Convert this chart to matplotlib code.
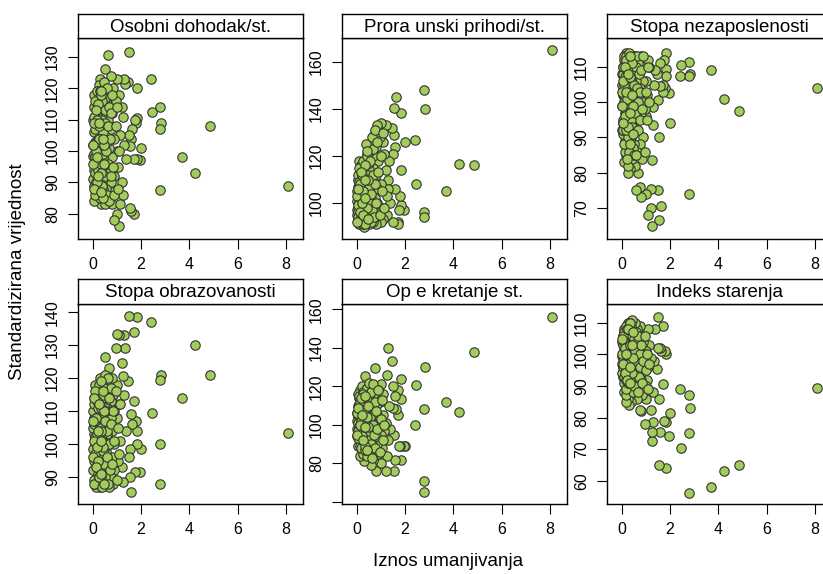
import matplotlib
matplotlib.use("Agg")
import matplotlib.pyplot as plt

plt.rcParams['font.family'] = ['Liberation Sans', 'DejaVu Sans']

W, H = 823, 574

naslovi = ['Osobni dohodak/st.', 'Prora unski prihodi/st.', 'Stopa nezaposlenosti',
           'Stopa obrazovanosti', 'Op e kretanje st.', 'Indeks starenja']

# iznos umanjivanja (zajednicki x za sve panele)
iznos = [8.1, 4.85, 4.25, 3.7, 2.85, 2.8, 2.8, 2.8, 2.45, 2.4,
         2.0, 1.95, 1.85, 1.85, 1.85, 1.8, 1.75, 1.7, 1.7, 1.65, 1.6, 1.6, 1.55, 1.55, 1.5, 1.5,
         1.45, 1.4, 1.35, 1.3, 1.3, 1.25, 1.25, 1.2, 1.2, 1.15, 1.1, 1.1, 1.05, 1.0, 1.0, 1.0,
         0.95, 0.9, 0.9, 0.9, 0.85, 0.85, 0.8, 0.8, 0.8, 0.75, 0.75, 0.75, 0.7, 0.7, 0.7,
         0.65, 0.65, 0.65, 0.6, 0.6, 0.6,
         0.55, 0.55, 0.5, 0.5, 0.5, 0.5, 0.45, 0.45, 0.45, 0.4, 0.4, 0.4, 0.4,
         0.35, 0.35, 0.35, 0.35, 0.3, 0.3, 0.3, 0.3,
         0.25, 0.25, 0.25, 0.2, 0.2, 0.2, 0.2, 0.15, 0.15, 0.15, 0.15, 0.1, 0.1, 0.1, 0.1,
         0.05, 0.05, 0.05, 0.05, 0.0, 0.0, 0.02, 0.02]

dohodak = [89, 108, 93, 98, 109, 107, 114, 87.5, 112.5, 123,
           101, 97, 110.5, 120, 97.5, 109, 110, 80, 97.5, 107, 104, 81, 101.5, 82, 131.5, 105,
           122, 97.5, 121.5, 123, 102, 111, 86, 90, 114, 105, 76, 118, 95, 123, 80, 100,
           116, 78, 104, 92, 120, 87, 112, 98, 83, 124, 107, 90, 118, 95, 101,
           130.5, 85, 110, 93, 115, 103,
           88, 108, 126, 96, 117, 84, 112, 100, 91, 121, 105, 87, 95,
           114, 99, 83, 108, 123, 102, 90, 110,
           86, 106, 117, 95, 112, 101, 88, 108, 97, 115, 85, 103, 92, 110, 99,
           106, 94, 114, 89, 98.5, 91, 102, 110]

prihodi = [165, 116, 116.5, 105, 140, 148, 96, 94, 108, 127,
           126, 97, 114, 99, 138.5, 103, 97, 92, 91, 145, 106, 124, 129, 140.5, 121, 92,
           132, 100, 118, 110, 106, 95, 103, 133, 114, 121, 93, 126, 98, 134, 108, 92,
           128, 95, 118, 106, 133, 100, 91, 124, 112, 102, 130, 96, 120, 92, 115,
           108, 98, 125, 94, 110, 102,
           122, 95, 105, 91, 114, 100, 119, 93, 108, 97, 112, 103, 125,
           92, 107, 116, 99, 94, 110, 101, 117,
           114, 96, 105, 92, 108, 99, 115, 102, 91, 111, 104, 95, 118, 100, 107,
           93, 110, 98, 103, 97, 101, 95, 105]

nezaposlenost = [104, 97.5, 101, 109, 108, 111.5, 107.5, 74, 110.5, 107.5,
                 94, 102.5, 109.5, 114, 107.5, 104, 112, 103, 105, 70.5, 104.5, 111, 90, 66.5, 100.5, 75,
                 108, 109, 105, 93.5, 98.5, 65, 83.5, 70, 75.5, 110, 68, 112, 102, 74, 96, 106,
                 98, 106, 90, 110, 100, 84, 113, 73, 96, 88, 104, 76, 108, 80, 111,
                 92, 100, 86, 75, 106, 96,
                 113, 82, 102, 88, 108, 95, 110, 84, 98, 106, 90, 113, 100,
                 81, 103, 94, 109, 87, 112, 97, 105,
                 80, 111, 99, 107, 92, 114, 85, 103, 109, 89, 97, 112, 100, 83, 106,
                 95, 110, 91, 102, 99, 92, 105, 108]

obrazovanost = [103.5, 121, 130, 114, 121, 119.5, 100, 88, 109.5, 137,
                98.5, 91.5, 100, 104, 138.5, 107, 91.5, 134, 113, 106, 85.5, 109, 98.5, 90, 139, 96,
                119, 104, 129, 115, 133, 120.5, 88.5, 93, 124.5, 101, 133, 112, 95, 133.5, 108, 118,
                129, 100, 110, 92, 115, 88, 104, 120, 96, 108, 90, 113, 123, 100, 87,
                106, 117, 95, 103, 111, 92,
                98, 118, 126.5, 90, 106, 112, 101, 94, 114, 103, 88, 119, 97,
                108, 92, 116, 100, 111, 87, 105, 120,
                94, 109, 98, 117, 90, 104, 113, 87, 101, 110, 96, 118, 92, 106, 100,
                89, 108, 103, 114, 98.5, 92, 105, 110]

kretanje = [156, 138, 106.5, 112, 130, 108.5, 71, 65, 120.5, 100,
            89, 89, 81.5, 124, 113.5, 89, 89, 105, 118, 108.5, 82, 115, 94.5, 76, 109, 120,
            133, 98, 110, 140, 92, 126, 84, 76, 101, 97, 105, 116, 88, 121, 95, 80,
            112, 85, 100, 118, 105, 90, 76, 110, 94, 129.5, 86, 100, 115, 82, 106,
            96, 120, 90, 79, 112, 100,
            108, 92, 97, 114, 86, 104, 118, 95, 110, 88, 101, 112, 106,
            125.5, 93, 99, 115, 81, 103, 108, 96,
            110, 90, 116, 100, 88, 106, 97, 113, 84, 102, 118, 93, 108, 99, 114,
            104, 96, 110, 89, 98, 102, 94, 106]

starenje = [89.5, 65, 63, 58, 83, 87, 75, 56, 70.5, 89,
            81.5, 74, 78.5, 100, 64, 101, 79, 90.5, 109, 101, 75.5, 102, 86, 65, 112, 102,
            95.5, 108, 98, 78.5, 88, 72.5, 75.5, 82.5, 99, 103, 108, 96, 92, 86, 101, 90,
            78, 104, 95, 100, 87, 106, 82, 97, 92, 82.5, 109, 89, 99, 102, 94,
            105, 86, 108, 97, 91, 103,
            110, 100, 92, 106, 88, 99, 104, 111, 96, 101, 85, 107, 93,
            102, 109, 95, 89, 105, 98, 84, 108,
            86, 103, 110, 85, 99, 106, 92, 101, 108, 95, 104, 88, 107, 97, 102,
            96, 106, 100, 93, 99.5, 94, 104, 97]

# gusti dio oblaka (male vrijednosti umanjivanja)
iznos_gusto = [0.05, 0.08, 0.1, 0.12, 0.15, 0.18, 0.2, 0.22, 0.25, 0.28,
               0.3, 0.32, 0.35, 0.38, 0.4, 0.42, 0.45, 0.48, 0.5, 0.52,
               0.05, 0.08, 0.1, 0.12, 0.15, 0.18, 0.2, 0.22, 0.25, 0.28,
               0.3, 0.32, 0.35, 0.38, 0.4, 0.42, 0.45, 0.48, 0.5, 0.52,
               0.55, 0.58, 0.6, 0.62, 0.65, 0.68, 0.7, 0.72, 0.75, 0.78,
               0.8, 0.85, 0.9, 0.95, 1.0, 1.05, 1.1, 1.15, 0.12, 0.18,
               0.03, 0.07, 0.13, 0.17, 0.23, 0.27, 0.33, 0.37, 0.43, 0.47,
               0.03, 0.07, 0.13, 0.17, 0.23, 0.27, 0.33, 0.37, 0.43, 0.47]

dohodak_gusto = [84, 118, 93, 107, 100, 113, 87, 104, 96, 121,
                 92, 85, 117, 101, 110, 88, 106, 97, 113, 83,
                 111, 99, 86, 116, 90, 103, 119, 94, 108, 89,
                 104, 119, 96, 89, 116, 99, 86, 122, 92, 109,
                 100, 86, 120, 108, 96, 114, 84, 104, 92, 112,
                 118, 95, 86, 108, 114, 88, 100, 83, 98, 110,
                 96, 109, 100, 90, 115, 104, 93, 118, 85, 102,
                 102, 88, 113, 98, 92, 109, 119, 87, 104, 96]

prihodi_gusto = [96, 112, 91, 104, 99, 116, 93, 108, 101, 114,
                 90, 106, 118, 97, 111, 93, 121, 102, 95, 117,
                 107, 94, 115, 100, 92, 110, 103, 97, 118, 91,
                 113, 98, 92, 109, 104, 120, 96, 112, 107, 100,
                 118, 92, 104, 128, 97, 112, 123, 94, 108, 131,
                 100, 126, 113, 95, 120, 105, 130, 98, 109, 102,
                 103, 99, 108, 94, 112, 105, 91, 116, 98, 110,
                 92, 106, 96, 113, 100, 95, 110, 102, 122, 93]

nezaposlenost_gusto = [108, 92, 113, 100, 86, 104, 111, 96, 82, 107,
                       101, 112, 89, 106, 95, 110, 103, 87, 113, 99,
                       94, 110, 102, 88, 107, 113, 97, 105, 90, 111,
                       114, 86, 107, 99, 112, 93, 102, 109, 85, 105,
                       97, 110, 85, 104, 113, 100, 92, 108, 95, 103,
                       109, 98, 113, 86, 103, 95, 110, 100, 105, 92,
                       103, 106, 96, 112, 101, 93, 107, 88, 111, 99,
                       99, 94, 110, 103, 84, 108, 113, 97, 102, 91]

obrazovanost_gusto = [112, 95, 102, 88, 115, 99, 107, 91, 118, 103,
                      97, 109, 90, 114, 101, 106, 93, 117, 99, 111,
                      88, 106, 116, 97, 108, 93, 103, 111, 90, 100,
                      105, 92, 111, 101, 87, 115, 98, 94, 121, 107,
                      110, 96, 104, 88, 120, 100, 114, 92, 106, 117,
                      94, 110, 101, 116, 89, 105, 97, 112, 107, 95,
                      96, 101, 108, 113, 95, 90, 119, 104, 99, 110,
                      107, 114, 93, 99, 104, 112, 91, 101, 116, 88]

kretanje_gusto = [101, 116, 94, 107, 89, 112, 98, 120, 85, 105,
                  110, 92, 103, 118, 96, 84, 113, 100, 107, 91,
                  93, 105, 115, 99, 110, 88, 104, 96, 117, 102,
                  98, 114, 87, 106, 101, 119, 93, 110, 97, 122,
                  104, 117, 90, 110, 83, 100, 121, 95, 112, 88,
                  107, 98, 118, 86, 103, 113, 92, 100, 111, 95,
                  106, 97, 112, 102, 94, 116, 108, 89, 104, 99,
                  95, 109, 100, 114, 105, 92, 99, 115, 87, 110]

starenje_gusto = [103, 96, 108, 91, 105, 99, 87, 102, 109, 94,
                  106, 90, 101, 97, 109, 94, 104, 88, 100, 107,
                  98, 105, 93, 107, 100, 89, 109, 96, 104, 91,
                  95, 103, 110, 92, 99, 106, 97, 102, 90, 105,
                  101, 94, 107, 98, 104, 88, 106, 93, 100, 96,
                  103, 91, 98, 106, 95, 100, 89, 97, 104, 92,
                  100, 106, 102, 95, 108, 97, 103, 110, 94, 99,
                  105, 97, 94, 100, 92, 108, 96, 91, 103, 107]

x_svi = iznos + iznos_gusto
serije = [dohodak + dohodak_gusto, prihodi + prihodi_gusto,
          nezaposlenost + nezaposlenost_gusto, obrazovanost + obrazovanost_gusto,
          kretanje + kretanje_gusto, starenje + starenje_gusto]

y_granice = [(72, 136), (84.7, 170.2), (61.2, 118.2), (81.8, 142.5), (58.9, 162.8), (52.6, 116)]
y_oznake = [[80, 90, 100, 110, 120, 130], [100, 120, 140, 160], [70, 80, 90, 100, 110],
            [90, 100, 110, 120, 130, 140], [60, 80, 100, 120, 140, 160], [60, 70, 80, 90, 100, 110]]

fig = plt.figure(figsize=(W / 100, H / 100), dpi=100)

lijevo = [78, 342, 607]
sirina = 225
redovi = [(14, 38, 239), (279, 304, 504)]

for i in range(6):
    r, c = divmod(i, 3)
    s_top, p_top, p_bot = redovi[r]
    x0 = lijevo[c]
    ax = fig.add_axes([x0 / W, 1 - p_bot / H, sirina / W, (p_bot - p_top) / H])
    ax.scatter(x_svi, serije[i], s=46, c='#A2CD5A', edgecolors='#333333', linewidths=0.8, zorder=3)
    ax.set_xlim(-0.6, 8.7)
    ax.set_ylim(*y_granice[i])
    ax.set_xticks([0, 2, 4, 6, 8])
    yt = y_oznake[i]
    ax.set_yticks(yt)
    lab = [str(v) for v in yt]
    if i == 4:
        lab[0] = ''
    ax.set_yticklabels(lab, rotation=90, va='center')
    ax.tick_params(direction='out', length=7, width=0.8, labelsize=11.5, pad=6, colors='black')
    for sp in ax.spines.values():
        sp.set_linewidth(1.0)

    st = fig.add_axes([x0 / W, 1 - p_top / H, sirina / W, (p_top - s_top) / H])
    st.set_xticks([])
    st.set_yticks([])
    for sp in st.spines.values():
        sp.set_linewidth(1.0)
    st.text(0.5, 0.45, naslovi[i], ha='center', va='center', fontsize=13.5, transform=st.transAxes)

fig.text(18 / W, 1 - 272 / H, 'Standardizirana vrijednost', rotation=90, ha='center', va='center', fontsize=13.5)
fig.text(448 / W, 1 - 561 / H, 'Iznos umanjivanja', ha='center', va='center', fontsize=13.5)

fig.savefig('out.png', dpi=100)
